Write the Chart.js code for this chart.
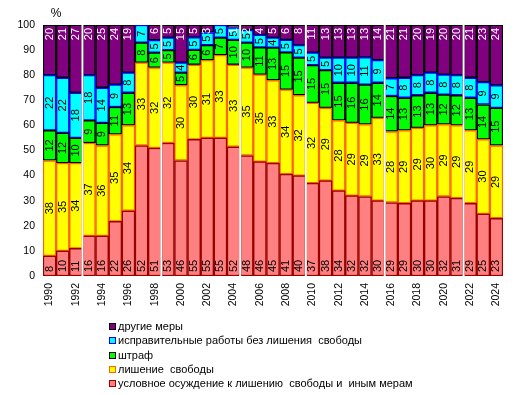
<!DOCTYPE html>
<html lang="ru">
<head>
  <meta charset="UTF-8">
  <title>Структура наказаний</title>
  <script src="https://cdn.jsdelivr.net/npm/chart.js"></script>
  <style>
    * { margin: 0; padding: 0; box-sizing: border-box; }
    body { background: #fff; width: 518px; height: 395px; overflow: hidden; position: relative; }
    #chart { position: absolute; left: 0; top: 0; }
    /* legend drawn as a plain list under the plot */
    .legend {
      position: absolute;
      left: 109px;
      top: 319px;
      list-style: none;
      font-family: "Liberation Sans", Arial, sans-serif;
      font-size: 11px;
      color: #000;
    }
    .legend li { height: 14.3px; line-height: 14.3px; white-space: pre; }
    .legend span.box {
      display: inline-block;
      width: 7px;
      height: 7px;
      margin-right: 2px;
      vertical-align: 0px;
    }
  </style>
</head>
<body>
  <canvas id="chart" width="518" height="395"></canvas>
  <ul class="legend" id="legend"></ul>

  <script>
    // --- data (percent of all sentences, as printed on the bars) ---
    const years = ['1990','1991','1992','1993','1994','1995','1996','1997','1998','1999',
                   '2000','2001','2002','2003','2004','2005','2006','2007','2008','2009',
                   '2010','2011','2012','2013','2014','2015','2016','2017','2018','2019',
                   '2020','2021','2022','2023','2024'];

    const conditional = [8,10,11,16,16,22,26,52,51,53,46,55,55,55,52,48,46,45,41,40,37,38,34,32,32,30,29,29,30,30,32,31,29,25,23];
    const imprisonment = [38,35,34,37,36,35,34,33,32,32,30,30,31,33,33,35,35,33,34,32,32,29,28,29,29,33,28,29,29,30,29,29,29,30,29];
    const fine = [12,12,10,9,9,11,13,8,6,5,5,6,6,7,10,10,11,13,15,15,15,15,15,16,16,14,14,13,13,13,12,12,13,14,15];
    const correctiveWork = [22,22,18,18,14,9,8,7,5,5,4,5,5,5,5,5,5,4,5,5,5,5,10,10,11,9,7,8,8,8,8,8,8,9,9];
    const otherMeasures = [20,21,27,20,25,24,19,0,6,5,15,5,3,0,1,2,4,5,6,8,11,13,13,13,13,14,21,21,20,19,20,20,21,23,24];

    const yTicks = [0,10,20,30,40,50,60,70,80,90,100];
    // first year of each group, white separator drawn before it
    const groupStarts = ['1993','1999','2005','2010','2016','2022'];

    const FONT = '"Liberation Sans", Arial, sans-serif';

    const series = [
      { label: 'условное осуждение к лишению  свободы и  иным мерам', data: conditional,
        fill: '#ff8080', border: '#990000', text: '#000', pos: 'base' },
      { label: 'лишение  свободы', data: imprisonment,
        fill: '#ffff00', border: '#ff6600', text: '#000', pos: 'center' },
      { label: 'штраф', data: fine,
        fill: '#00ff00', border: '#000000', text: '#000', pos: 'center' },
      { label: 'исправительные работы без лишения  свободы', data: correctiveWork,
        fill: '#00ffff', border: '#0000ff', text: '#000', pos: 'center' },
      { label: 'другие меры', data: otherMeasures,
        fill: '#800080', border: '#000000', text: '#fff', pos: 'end' }
    ];

    // 100% stacked: rounded shares don't always add to 100, so scale each year
    const totals = years.map((_, i) => series.reduce((t, s) => t + s.data[i], 0));

    // white lines between the groups of years, value labels, "%" caption
    const extras = {
      id: 'extras',
      afterDatasetsDraw(chart) {
        const { ctx, chartArea, scales } = chart;
        const x = scales.x;
        ctx.save();
        ctx.strokeStyle = '#ffffff';
        ctx.lineWidth = 2;
        groupStarts.forEach(y => {
          const i = years.indexOf(y);
          const px = (x.getPixelForValue(i - 1) + x.getPixelForValue(i)) / 2;
          ctx.beginPath();
          ctx.moveTo(px, chartArea.top - 1);
          ctx.lineTo(px, chartArea.bottom + 1);
          ctx.stroke();
        });

        ctx.font = '11px ' + FONT;
        ctx.textBaseline = 'middle';
        chart.data.datasets.forEach((ds, di) => {
          const meta = chart.getDatasetMeta(di);
          const s = series[di];
          meta.data.forEach((bar, i) => {
            const v = s.data[i];
            if (!v) return;
            const p = bar.getProps(['x', 'y', 'base'], true);
            const top = Math.max(p.y, chartArea.top);
            let yy, align;
            if (s.pos === 'base') { yy = p.base - 4; align = 'left'; }
            else if (s.pos === 'end') { yy = top + 3; align = 'right'; }
            else { yy = (top + p.base) / 2; align = 'center'; }
            ctx.save();
            ctx.translate(p.x, yy);
            ctx.rotate(-Math.PI / 2);
            ctx.textAlign = align;
            ctx.fillStyle = s.text;
            ctx.fillText(String(v), 0, 0);
            ctx.restore();
          });
        });

        ctx.fillStyle = '#000';
        ctx.font = '12px ' + FONT;
        ctx.textAlign = 'center';
        ctx.textBaseline = 'middle';
        ctx.fillText('%', chartArea.left + 13, 14);
        ctx.restore();
      }
    };

    const chart = new Chart(document.getElementById('chart'), {
      type: 'bar',
      data: {
        labels: years,
        datasets: series.map(s => ({
          label: s.label,
          data: s.data.map((v, i) => v * 100 / totals[i]),
          backgroundColor: s.fill,
          borderColor: s.border,
          borderWidth: 1.5,
          borderSkipped: false,
          categoryPercentage: 1,
          barPercentage: 1
        }))
      },
      options: {
        responsive: false,
        animation: false,
        layout: { padding: { top: 25, right: 15, bottom: 74, left: 0 } },
        plugins: {
          legend: { display: false },
          tooltip: { enabled: false }
        },
        scales: {
          x: {
            stacked: true,
            grid: { display: false, drawTicks: false },
            border: { display: false },
            afterFit: s => { s.height = 45; },
            ticks: {
              autoSkip: false,
              minRotation: 90,
              maxRotation: 90,
              padding: 7,
              color: '#000',
              font: { family: FONT, size: 10.5 },
              callback: (v, i) => (i % 2 === 0 ? years[i] : '')
            }
          },
          y: {
            stacked: true,
            min: 0,
            max: 100,
            afterFit: s => { s.width = 43; },
            afterBuildTicks: s => { s.ticks = yTicks.map(v => ({ value: v })); },
            grid: { display: false, drawTicks: false },
            border: { display: false },
            ticks: {
              padding: 8,
              color: '#000',
              font: { family: FONT, size: 10.5 }
            }
          }
        }
      },
      plugins: [extras]
    });

    // legend, top to bottom in reverse stacking order
    const legend = document.getElementById('legend');
    series.slice().reverse().forEach(s => {
      const li = document.createElement('li');
      li.innerHTML = '<span class="box" style="background:' + s.fill +
        ';border:1px solid ' + s.border + '"></span>' + s.label;
      legend.appendChild(li);
    });
  </script>
</body>
</html>
